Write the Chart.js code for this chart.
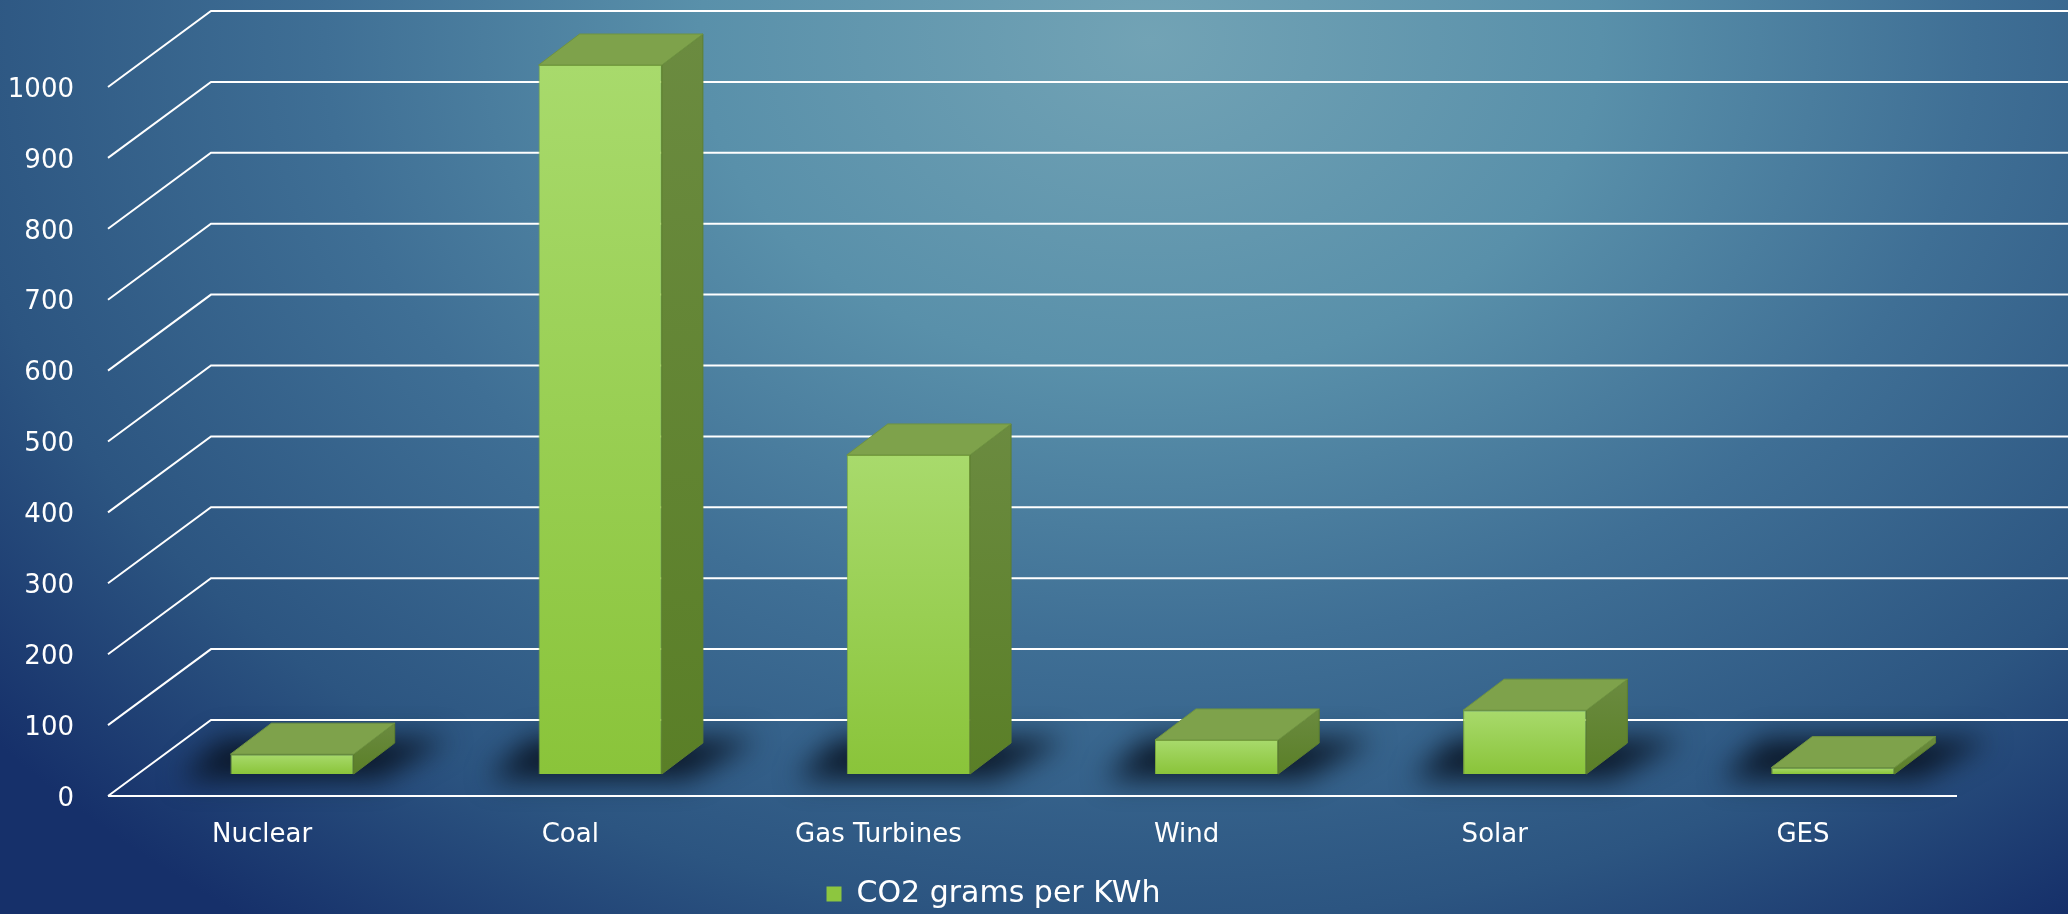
<!DOCTYPE html>
<html>
<head>
<meta charset="utf-8">
<script src="https://cdn.jsdelivr.net/npm/chart.js@4.4.1/dist/chart.umd.min.js"></script>
<style>
  html, body { margin: 0; padding: 0; background: #1b3a6c; }
  #wrap { width: 2068px; height: 914px; }
</style>
</head>
<body>
<div id="wrap"><canvas id="co2"></canvas></div>
<script>
const sources = ['Nuclear', 'Coal', 'Gas Turbines', 'Wind', 'Solar', 'GES'];
const gramsPerKwh = [28, 1000, 450, 48, 90, 9];
const seriesName = 'CO2 grams per KWh';
const yMax = 1000;
const yStep = 100;

// oblique offsets of the 3D look, relative to the plane the bars stand on
const FRONT = { dx: -30, dy: 22 };
const BACK = { dx: 73, dy: -54 };
const DEPTH = { dx: 41, dy: -31 };

const backdrop = {
  id: 'backdrop',
  beforeDraw(chart) {
    const { ctx } = chart;
    ctx.save();
    ctx.translate(1150, 40);
    ctx.scale(1500 / 1100, 1);
    const g = ctx.createRadialGradient(0, 0, 0, 0, 0, 1100);
    g.addColorStop(0, '#72a3b5');
    g.addColorStop(0.3, '#5990aa');
    g.addColorStop(0.55, '#3f6f95');
    g.addColorStop(0.8, '#2c5581');
    g.addColorStop(1, '#16306a');
    ctx.fillStyle = g;
    ctx.fillRect(-3000, -2000, 6000, 4000);
    ctx.restore();
  }
};

function poly(ctx, pts) {
  ctx.beginPath();
  ctx.moveTo(pts[0][0], pts[0][1]);
  for (let i = 1; i < pts.length; i++) ctx.lineTo(pts[i][0], pts[i][1]);
  ctx.closePath();
}

const blocks = {
  id: 'blocks',
  beforeDatasetsDraw(chart) {
    const { ctx, chartArea: a, scales: { y } } = chart;
    const bars = chart.getDatasetMeta(0).data;

    // soft shadows on the floor
    ctx.save();
    ctx.filter = 'blur(14px)';
    ctx.fillStyle = 'rgba(8,18,32,0.9)';
    bars.forEach(b => {
      const l = b.x - b.width / 2, r = b.x + b.width / 2, B = b.base;
      poly(ctx, [[l - 50, B + 5], [r + 25, B + 5], [r + DEPTH.dx + 55, B - 35], [l + DEPTH.dx - 50, B - 35]]);
      ctx.fill();
    });
    ctx.restore();

    // wall and floor lines
    ctx.save();
    ctx.strokeStyle = '#ffffff';
    ctx.lineWidth = 2;
    y.ticks.forEach(t => {
      const py = y.getPixelForValue(t.value);
      ctx.beginPath();
      ctx.moveTo(a.left + FRONT.dx, py + FRONT.dy);
      ctx.lineTo(a.left + BACK.dx, py + BACK.dy);
      ctx.lineTo(chart.width, py + BACK.dy);
      ctx.stroke();
    });
    const p0 = y.getPixelForValue(0);
    ctx.beginPath();
    ctx.moveTo(a.left + FRONT.dx, p0 + FRONT.dy);
    ctx.lineTo(a.right + FRONT.dx, p0 + FRONT.dy);
    ctx.stroke();
    ctx.restore();
  },
  afterDatasetsDraw(chart) {
    const { ctx } = chart;
    const bars = chart.getDatasetMeta(0).data;
    ctx.save();
    ctx.lineWidth = 1;
    bars.forEach(b => {
      const l = b.x - b.width / 2, r = b.x + b.width / 2, T = b.y, B = b.base;
      // side face
      const sg = ctx.createLinearGradient(0, T + DEPTH.dy, 0, B);
      sg.addColorStop(0, '#6b8b40');
      sg.addColorStop(1, '#5a7f27');
      ctx.fillStyle = sg;
      ctx.strokeStyle = '#5d7f2e';
      poly(ctx, [[r, T], [r + DEPTH.dx, T + DEPTH.dy], [r + DEPTH.dx, B + DEPTH.dy], [r, B]]);
      ctx.fill();
      ctx.stroke();
      // top face
      ctx.fillStyle = '#7ea24b';
      ctx.strokeStyle = '#6f9341';
      poly(ctx, [[l, T], [r, T], [r + DEPTH.dx, T + DEPTH.dy], [l + DEPTH.dx, T + DEPTH.dy]]);
      ctx.fill();
      ctx.stroke();
    });
    ctx.restore();
  }
};

const font = 'DejaVu Sans';

new Chart(document.getElementById('co2'), {
  type: 'bar',
  data: {
    labels: sources,
    datasets: [{
      label: seriesName,
      data: gramsPerKwh,
      backgroundColor: c => {
        const ch = c.chart;
        if (!ch.chartArea || c.raw === undefined) return '#8dc63f';
        const ys = ch.scales.y;
        const g = ch.ctx.createLinearGradient(0, ys.getPixelForValue(c.raw), 0, ys.getPixelForValue(0));
        g.addColorStop(0, '#a8da6c');
        g.addColorStop(1, '#8ac43a');
        return g;
      },
      borderColor: '#7daa3c',
      borderWidth: 1,
      categoryPercentage: 1,
      barPercentage: 0.4
    }]
  },
  options: {
    responsive: true,
    maintainAspectRatio: false,
    animation: false,
    layout: { padding: { top: 65, right: 81, left: 0, bottom: -5 } },
    plugins: {
      legend: {
        position: 'bottom',
        labels: {
          color: '#ffffff',
          font: { family: font, size: 30 },
          boxWidth: 15,
          boxHeight: 15,
          padding: 2,
          generateLabels: ch => [{
            text: seriesName,
            fillStyle: '#8dc63f',
            strokeStyle: '#8dc63f',
            lineWidth: 0,
            fontColor: '#ffffff',
            datasetIndex: 0
          }]
        }
      },
      tooltip: { enabled: false }
    },
    scales: {
      x: {
        grid: { display: false },
        border: { display: false },
        ticks: {
          color: '#ffffff',
          font: { family: font, size: 26 },
          padding: 38,
          labelOffset: FRONT.dx,
          maxRotation: 0
        },
        afterFit: s => { s.height = 103; }
      },
      y: {
        min: 0,
        max: yMax,
        grid: { display: false },
        border: { display: false },
        ticks: {
          stepSize: yStep,
          color: '#ffffff',
          font: { family: font, size: 26 },
          padding: 56,
          labelOffset: FRONT.dy + 3,
          callback: v => String(v)
        },
        afterFit: s => {
          s.width = 138;
          s.paddingTop = 10;
          s.paddingBottom = 10;
        }
      }
    }
  },
  plugins: [backdrop, blocks]
});
</script>
</body>
</html>
